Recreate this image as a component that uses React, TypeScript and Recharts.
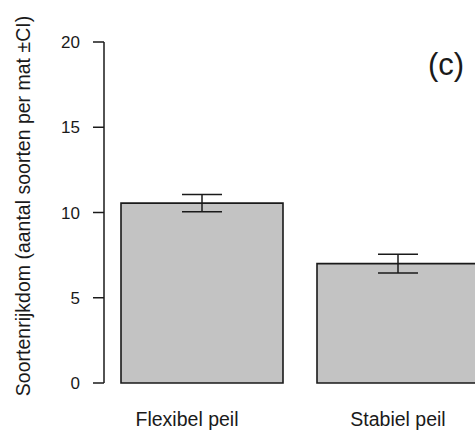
import React from "react";
import { BarChart, Bar, XAxis, YAxis, ErrorBar, Customized } from "recharts";

const categories = ["Flexibel peil", "Stabiel peil"];
const meanRichness = [10.55, 7.0];
const ciHalfWidth = [0.5, 0.55];
const yTicks = [0, 5, 10, 15, 20];
const yAxisTitle = "Soortenrijkdom (aantal soorten per mat \u00b1CI)";
const panelLabel = "(c)";

const data = categories.map((name, i) => ({
  name,
  value: meanRichness[i],
  ci: ciHalfWidth[i],
}));

const FONT = "Liberation Sans, Arial, Helvetica, sans-serif";
const INK = "#1a1a1a";

const XTick = (props: any) => {
  const { x, y, payload, index } = props;
  return (
    <text
      x={x}
      y={y}
      dx={index === 0 ? -15 : 0}
      dy={43}
      textAnchor="middle"
      fontFamily={FONT}
      fontSize={19.5}
      fill={INK}
    >
      {payload.value}
    </text>
  );
};

const Overlay = () => (
  <g>
    <text
      x={23}
      y={206}
      transform="rotate(-90 23 206)"
      textAnchor="middle"
      dominantBaseline="central"
      fontFamily={FONT}
      fontSize={19.5}
      fill={INK}
    >
      {yAxisTitle}
    </text>
    <text
      x={446}
      y={75}
      textAnchor="middle"
      fontFamily={FONT}
      fontSize={31}
      fill={INK}
    >
      {panelLabel}
    </text>
  </g>
);

export default function App() {
  return (
    <div
      style={{
        position: "absolute",
        left: 0,
        top: 0,
        width: 475,
        height: 433,
        overflow: "hidden",
        background: "#ffffff",
      }}
    >
      <BarChart
        width={500}
        height={433}
        data={data}
        margin={{ top: 42, right: 4, bottom: 0, left: 0 }}
        barCategoryGap={34}
      >
        <XAxis
          dataKey="name"
          axisLine={false}
          tickLine={false}
          tickSize={0}
          tickMargin={0}
          height={50}
          interval={0}
          tick={<XTick />}
        />
        <YAxis
          width={104}
          domain={[0, 20]}
          ticks={yTicks}
          interval={0}
          tickSize={11}
          tickMargin={13}
          axisLine={{ stroke: INK, strokeWidth: 1.5 }}
          tickLine={{ stroke: INK, strokeWidth: 1.5 }}
          tick={{ fontFamily: FONT, fontSize: 17, fill: INK }}
        />
        <Bar
          dataKey="value"
          fill="#c3c3c3"
          stroke={INK}
          strokeWidth={1.6}
          barSize={162}
          isAnimationActive={false}
        >
          <ErrorBar
            dataKey="ci"
            width={20}
            stroke={INK}
            strokeWidth={1.5}
            direction="y"
          />
        </Bar>
        <Customized component={Overlay} />
      </BarChart>
    </div>
  );
}
